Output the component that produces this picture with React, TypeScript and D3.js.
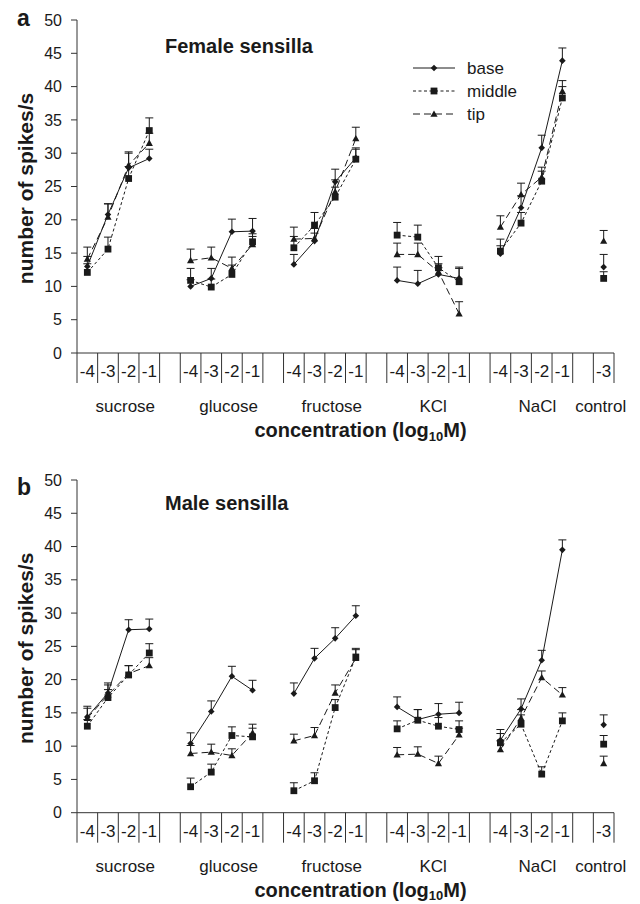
import React from "react";
import * as d3 from "d3";

// ---------- data ----------
const groups = ["sucrose", "glucose", "fructose", "KCl", "NaCl", "control"];
const concLabels = ["-4", "-3", "-2", "-1"];
const controlLabel = "-3";
const yTicks = [0, 5, 10, 15, 20, 25, 30, 35, 40, 45, 50];
const seriesNames = ["base", "middle", "tip"];

// values ordered: sucrose(-4..-1), glucose, fructose, KCl, NaCl (4 each), control (1)
const femaleBase = [13.0, 20.8, 27.8, 29.2, 10.0, 11.2, 18.2, 18.3, 13.3, 16.8, 25.7, 29.3, 10.9, 10.4, 11.8, 11.2, 14.9, 21.8, 30.8, 43.9, 12.9];
const femaleBaseSE = [1.5, 1.6, 2.2, 1.4, 1.0, 1.5, 1.9, 1.9, 1.5, 1.2, 1.9, 1.5, 2.0, 2.0, 1.0, 1.5, 1.2, 1.8, 1.9, 1.9, 1.9];
const femaleMiddle = [12.1, 15.6, 26.2, 33.4, 10.9, 9.9, 11.8, 16.7, 15.8, 19.2, 23.4, 29.1, 17.7, 17.4, 12.8, 10.7, 15.3, 19.5, 25.8, 38.3, 11.2];
const femaleMiddleSE = [1.3, 1.8, 1.8, 1.9, 1.8, 1.2, 1.4, 1.2, 1.7, 1.9, 1.5, 1.5, 1.9, 1.8, 1.7, 2.2, 1.8, 1.6, 1.5, 1.7, 1.0];
const femaleTip = [14.1, 20.4, 28.2, 31.5, 13.9, 14.3, 12.7, 16.3, 17.1, 17.2, 24.2, 32.2, 14.8, 14.8, 12.2, 5.9, 18.9, 23.8, 26.4, 39.3, 16.8];
const femaleTipSE = [1.8, 2.0, 2.0, 1.5, 1.7, 1.6, 1.7, 1.2, 1.8, 1.5, 1.8, 1.7, 1.7, 1.7, 1.2, 1.8, 1.7, 1.7, 1.5, 1.6, 1.6];

const maleBase = [14.4, 18.0, 27.5, 27.6, 10.4, 15.2, 20.5, 18.4, 17.9, 23.2, 26.2, 29.6, 15.9, 14.0, 14.8, 15.0, 10.9, 15.6, 22.9, 39.5, 13.2];
const maleBaseSE = [1.6, 1.5, 1.5, 1.5, 1.6, 1.6, 1.5, 1.5, 1.6, 1.5, 1.6, 1.5, 1.5, 1.5, 1.6, 1.6, 1.6, 1.5, 1.5, 1.5, 1.5];
const maleMiddle = [13.0, 17.3, 20.7, 24.0, 3.9, 6.1, 11.6, 11.4, 3.3, 4.8, 15.8, 23.4, 12.6, 13.9, 13.0, 12.5, 10.5, 13.3, 5.8, 13.8, 10.3];
const maleMiddleSE = [1.0, 1.2, 1.4, 1.4, 1.3, 1.2, 1.3, 1.3, 1.2, 1.2, 1.2, 1.3, 1.2, 1.6, 1.3, 1.3, 1.4, 1.4, 1.1, 1.2, 1.3];
const maleTip = [14.2, 17.7, 20.9, 22.1, 8.9, 9.1, 8.6, 12.0, 10.8, 11.6, 18.0, 23.2, 8.7, 8.8, 7.4, 11.7, 9.5, 14.2, 20.3, 17.7, 7.4];
const maleTipSE = [1.5, 1.5, 1.2, 1.2, 1.2, 1.2, 1.0, 1.3, 1.0, 1.2, 1.2, 1.3, 1.1, 1.1, 1.1, 1.0, 1.3, 1.3, 1.0, 1.1, 1.1];

// ---------- layout ----------
const FONT = "'Liberation Sans', Arial, Helvetica, sans-serif";
const X0 = 77;
const X1 = 614;
const NSLOTS = 26;
const groupLabelDx = [7, 7, 7, 5, 6, -3];
const dashes: Record<string, string | undefined> = { base: undefined, middle: "3,2.5", tip: "7,4" };
const INK = "#1a1a1a";

// slot index per data value
const slotIndex: number[] = [];
for (let g = 0; g < 5; g++) for (let k = 0; k < 4; k++) slotIndex.push(g * 5 + k);
slotIndex.push(25);

const xScale = d3.scaleBand<number>().domain(d3.range(NSLOTS)).range([X0, X1]).padding(0);

function Marker({ kind, x, y }: { kind: string; x: number; y: number }) {
  if (kind === "base") {
    const r = 3.3;
    return <path d={`M${x},${y - r}L${x + r},${y}L${x},${y + r}L${x - r},${y}Z`} fill={INK} />;
  }
  if (kind === "middle") {
    const s = 3.4;
    return <rect x={x - s} y={y - s} width={2 * s} height={2 * s} fill={INK} />;
  }
  const h = 3.6;
  return <path d={`M${x},${y - h}L${x + h},${y + h * 0.75}L${x - h},${y + h * 0.75}Z`} fill={INK} />;
}

type PanelProps = {
  top: number;
  bottom: number;
  letter: string;
  title: string;
  titleY: number;
  letterY: number;
  series: { name: string; values: number[]; se: number[] }[];
  legend: boolean;
};

function Panel({ top, bottom, letter, title, titleY, letterY, series, legend }: PanelProps) {
  const y = d3.scaleLinear().domain([0, 50]).range([bottom, top]);
  const cx = (i: number) => (xScale(slotIndex[i]) as number) + xScale.bandwidth() / 2;

  const elements: React.ReactNode[] = [];
  // error bars
  series.forEach((s) => {
    s.values.forEach((v, i) => {
      const x = cx(i);
      const t = y(v + s.se[i]);
      elements.push(
        <g key={`e-${s.name}-${i}`} stroke={INK} strokeWidth={1}>
          <line x1={x} x2={x} y1={y(v)} y2={t} />
          <line x1={x - 4} x2={x + 4} y1={t} y2={t} />
        </g>
      );
    });
  });
  // lines
  series.forEach((s) => {
    for (let g = 0; g < 5; g++) {
      const idx = [0, 1, 2, 3].map((k) => g * 4 + k);
      const gen = d3
        .line<number>()
        .x((i) => cx(i))
        .y((i) => y(s.values[i]));
      elements.push(
        <path
          key={`l-${s.name}-${g}`}
          d={gen(idx) || ""}
          fill="none"
          stroke={INK}
          strokeWidth={1}
          strokeDasharray={dashes[s.name]}
        />
      );
    }
  });
  // markers
  series.forEach((s) => {
    s.values.forEach((v, i) => {
      elements.push(<Marker key={`m-${s.name}-${i}`} kind={s.name} x={cx(i)} y={y(v)} />);
    });
  });

  const groupCenters = groups.map((_, g) => {
    if (g < 5) return (xScale(g * 5) as number) + 2 * xScale.bandwidth();
    return (xScale(25) as number) + xScale.bandwidth() / 2;
  });

  const tickLabels: { slot: number; label: string }[] = [];
  for (let g = 0; g < 5; g++) concLabels.forEach((c, k) => tickLabels.push({ slot: g * 5 + k, label: c }));
  tickLabels.push({ slot: 25, label: controlLabel });

  return (
    <g fontFamily={FONT}>
      <text x={17} y={letterY} fontSize={23} fontWeight="bold" fill={INK}>
        {letter}
      </text>
      {/* y axis */}
      <line x1={X0} x2={X0} y1={top} y2={bottom} stroke="#333" strokeWidth={1} />
      {yTicks.map((t) => (
        <g key={`yt-${t}`}>
          <line x1={X0 - 6} x2={X0} y1={y(t)} y2={y(t)} stroke="#333" strokeWidth={1} />
          <text x={62} y={y(t)} dy="0.35em" textAnchor="end" fontSize={16} fill={INK}>
            {t}
          </text>
        </g>
      ))}
      <text
        transform={`translate(26,${(top + bottom) / 2 + 2}) rotate(-90)`}
        textAnchor="middle"
        dy="0.35em"
        fontSize={21}
        fontWeight="bold"
        fill={INK}
      >
        number of spikes/s
      </text>
      {/* x axis */}
      <line x1={X0} x2={X1} y1={bottom} y2={bottom} stroke="#333" strokeWidth={1} />
      {d3.range(NSLOTS + 1).map((i) => {
        const x = i < NSLOTS ? (xScale(i) as number) : X1;
        return <line key={`xt-${i}`} x1={x} x2={x} y1={bottom} y2={bottom + 30} stroke="#333" strokeWidth={1} />;
      })}
      {tickLabels.map((t) => (
        <text
          key={`xl-${t.slot}`}
          x={(xScale(t.slot) as number) + xScale.bandwidth() / 2}
          y={bottom + 24}
          textAnchor="middle"
          fontSize={17}
          fill={INK}
        >
          {t.label}
        </text>
      ))}
      {groups.map((gname, g) => (
        <text key={`gl-${gname}`} x={groupCenters[g] + groupLabelDx[g]} y={bottom + 59} textAnchor="middle" fontSize={17} fill={INK}>
          {gname}
        </text>
      ))}
      <text x={(X0 + X1) / 2 + 15} y={bottom + 84} textAnchor="middle" fontSize={20} fontWeight="bold" fill={INK}>
        concentration (log
        <tspan fontSize={13} dy={3.5}>
          10
        </tspan>
        <tspan dy={-3.5}>M)</tspan>
      </text>
      <text x={165} y={titleY} fontSize={20} fontWeight="bold" fill={INK}>
        {title}
      </text>
      {elements}
      {legend &&
        seriesNames.map((n, i) => {
          const ly = 68 + i * 23;
          return (
            <g key={`lg-${n}`}>
              <line x1={413} x2={455} y1={ly} y2={ly} stroke={INK} strokeWidth={1} strokeDasharray={dashes[n]} />
              <Marker kind={n} x={434} y={ly} />
              <text x={467} y={ly} dy="0.35em" fontSize={17} fill={INK}>
                {n}
              </text>
            </g>
          );
        })}
    </g>
  );
}

export default function App() {
  const female = [
    { name: "base", values: femaleBase, se: femaleBaseSE },
    { name: "middle", values: femaleMiddle, se: femaleMiddleSE },
    { name: "tip", values: femaleTip, se: femaleTipSE },
  ];
  const male = [
    { name: "base", values: maleBase, se: maleBaseSE },
    { name: "middle", values: maleMiddle, se: maleMiddleSE },
    { name: "tip", values: maleTip, se: maleTipSE },
  ];
  return (
    <svg width={640} height={904} style={{ position: "absolute", left: 0, top: 0, background: "#fff" }}>
      <rect width={640} height={904} fill="#fff" />
      <Panel top={20} bottom={353} letter="a" letterY={26} title="Female sensilla" titleY={53} series={female} legend={true} />
      <Panel top={480} bottom={812.7} letter="b" letterY={495} title="Male sensilla" titleY={510} series={male} legend={false} />
    </svg>
  );
}
